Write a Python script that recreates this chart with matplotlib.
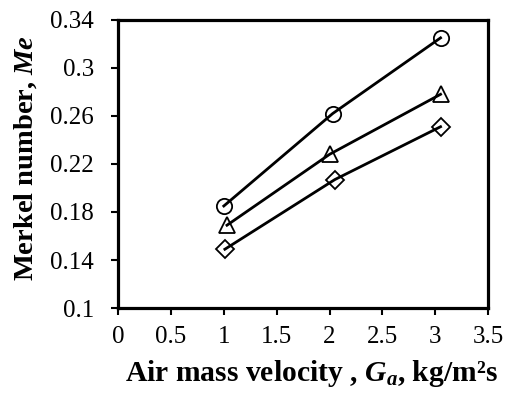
import matplotlib
matplotlib.use("Agg")
import matplotlib.pyplot as plt

plt.rcParams['font.family'] = ['Liberation Serif', 'DejaVu Serif']
plt.rcParams['mathtext.fontset'] = 'custom'
plt.rcParams['mathtext.rm'] = 'Liberation Serif'
plt.rcParams['mathtext.it'] = 'Liberation Serif:italic'
plt.rcParams['mathtext.bf'] = 'Liberation Serif:bold'
plt.rcParams['mathtext.bfit'] = 'Liberation Serif:italic:bold'

# data
x_circle = [1.00, 2.03, 3.05]
y_circle = [0.185, 0.262, 0.325]
x_tri = [1.03, 2.00, 3.05]
y_tri = [0.169, 0.228, 0.278]
x_dia = [1.01, 2.05, 3.05]
y_dia = [0.149, 0.207, 0.251]

xticks = [0, 0.5, 1, 1.5, 2, 2.5, 3, 3.5]
xtick_labels = ['0', '0.5', '1', '1.5', '2', '2.5', '3', '3.5']
yticks = [0.1, 0.14, 0.18, 0.22, 0.26, 0.3, 0.34]
ytick_labels = ['0.1', '0.14', '0.18', '0.22', '0.26', '0.3', '0.34']

fig = plt.figure(figsize=(5.09, 3.97), dpi=100)
ax = fig.add_axes([0.232, 0.224, 0.727, 0.726])

for xs, ys, m, ms in [(x_circle, y_circle, 'o', 11), (x_tri, y_tri, '^', 11), (x_dia, y_dia, 'D', 9.5)]:
    ax.plot(xs, ys, color='black', linewidth=2.0, marker=m, markersize=ms,
            markerfacecolor='none', markeredgecolor='black', markeredgewidth=1.3)

ax.set_xlim(0, 3.5)
ax.set_ylim(0.1, 0.34)
ax.set_xticks(xticks)
ax.set_xticklabels(xtick_labels)
ax.set_yticks(yticks)
ax.set_yticklabels(ytick_labels)
ax.tick_params(direction='out', length=5.2, width=1.5, labelsize=18)
ax.tick_params(axis='y', pad=12)
ax.tick_params(axis='x', pad=8)
for s in ax.spines.values():
    s.set_linewidth(2.3)

ax.set_xlabel('Air mass velocity , $\\mathbfit{G}_{\\mathbfit{a}}$, kg/m²s', fontsize=21.3, fontweight='bold')
ax.set_ylabel('Merkel number, $\\mathbfit{Me}$', fontsize=20.5, fontweight='bold')
ax.xaxis.set_label_coords(0.523, -0.173)
ax.yaxis.set_label_coords(-0.215, 0.521)

fig.savefig('out.png', dpi=100)
